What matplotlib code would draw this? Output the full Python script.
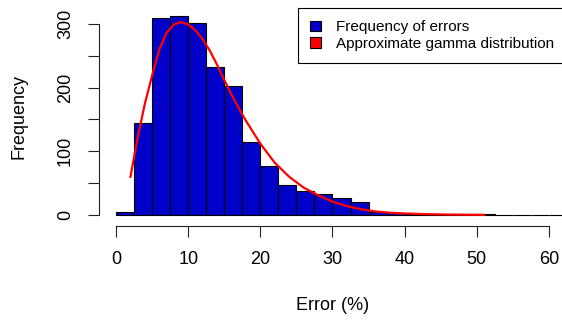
import matplotlib
matplotlib.use("Agg")
import matplotlib.pyplot as plt
from matplotlib.patches import Patch
import numpy as np

plt.rcParams['font.family'] = ['Liberation Sans', 'DejaVu Sans']

# histogram of errors, bins of 2.5 %
bin_width = 2.5
bin_edges = np.arange(0, 65, bin_width)
counts = [5, 145, 309, 312, 302, 232, 203, 115, 77, 47, 38, 33, 27, 20,
          5, 3, 2, 2, 0, 0, 1, 0, 0, 0, 0, 0]

# approximate gamma curve
curve_x = [2, 3, 4, 5, 6, 7, 8, 9, 10, 11, 12, 13, 14, 15, 16, 17, 18,
           20, 22, 24, 26, 28, 30, 32, 34, 36, 38, 40, 43, 46, 51]
curve_y = [60, 122, 175, 219, 260, 286, 299, 303, 299, 290, 276, 258, 236,
           212, 189, 168, 148, 112, 82, 60, 43, 31, 21, 14, 9, 5.5, 3.5,
           2.4, 1.3, 0.7, 0.2]

x_ticks = [0, 10, 20, 30, 40, 50, 60]
y_ticks = [0, 50, 100, 150, 200, 250, 300]
y_labels = ['0', '', '100', '', '200', '', '300']

bar_color = '#0000C8'

fig = plt.figure(figsize=(5.62, 3.2), dpi=100)
ax = fig.add_axes([0.1762, 0.2947, 0.8313, 0.6803])

ax.bar(bin_edges[:len(counts)], counts, width=bin_width, align='edge',
       color=bar_color, edgecolor='black', linewidth=0.8)
ax.plot(curve_x, curve_y, color='red', lw=1.6)

ax.set_xlim(-2.36, 62.4)
ax.set_ylim(-16.8, 325)

# R style axes
for s in ['top', 'right']:
    ax.spines[s].set_visible(False)
ax.spines['left'].set_bounds(0, 300)
ax.spines['bottom'].set_bounds(0, 60)
for s in ['left', 'bottom']:
    ax.spines[s].set_linewidth(0.8)
    ax.spines[s].set_color('#222222')

ax.set_xticks(x_ticks)
ax.set_yticks(y_ticks)
ax.set_yticklabels(y_labels, rotation=90, va='center')
ax.tick_params(length=8, width=0.8, color='#222222', labelsize=13, pad=10)

ax.set_xlabel('Error (%)', fontsize=13, labelpad=21)
ax.set_ylabel('Frequency', fontsize=13, labelpad=21)

handles = [Patch(facecolor=bar_color, edgecolor='black', lw=0.8),
           Patch(facecolor='red', edgecolor='black', lw=0.8)]
leg = ax.legend(handles, ['Frequency of errors', 'Approximate gamma distribution'],
                loc='upper right', borderaxespad=0, fontsize=11,
                handlelength=0.7, handleheight=0.7, labelspacing=0.15,
                handletextpad=1.0, borderpad=0.8, fancybox=False,
                edgecolor='black', framealpha=1)
leg.get_frame().set_linewidth(0.8)

fig.savefig('out.png', dpi=100)
